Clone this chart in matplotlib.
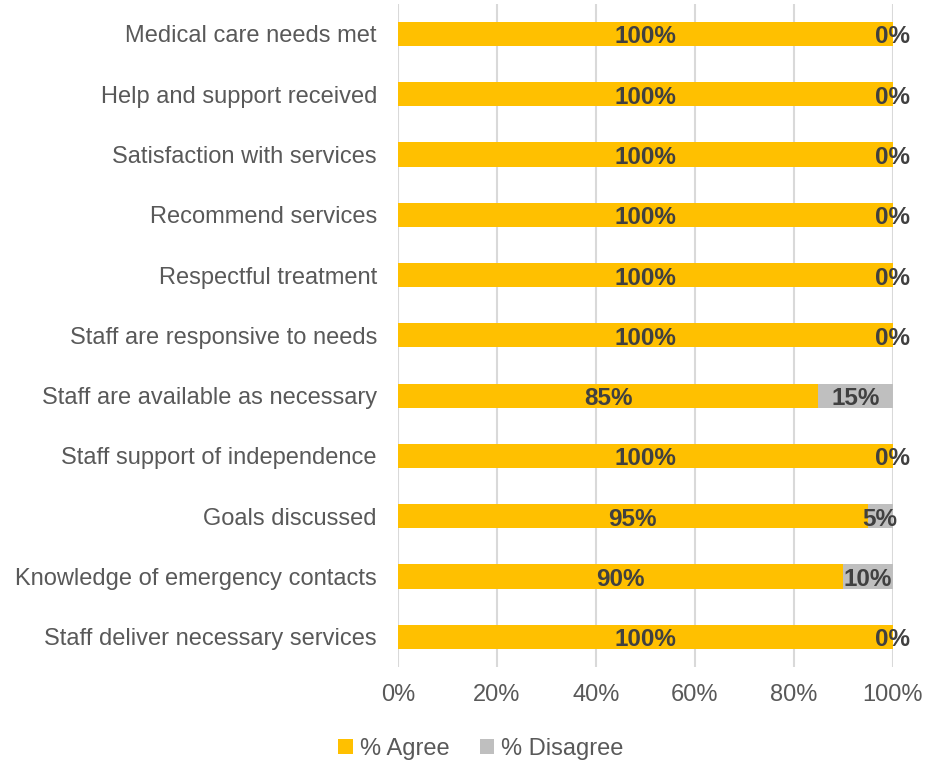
import matplotlib.pyplot as plt
from matplotlib.ticker import PercentFormatter

plt.rcParams['font.family'] = ['Liberation Sans', 'DejaVu Sans']

# survey items, bottom to top as drawn
items = ["Staff deliver necessary services",
         "Knowledge of emergency contacts",
         "Goals discussed",
         "Staff support of independence",
         "Staff are available as necessary",
         "Staff are responsive to needs",
         "Respectful treatment",
         "Recommend services",
         "Satisfaction with services",
         "Help and support received",
         "Medical care needs met"]
agree = [100, 90, 95, 100, 85, 100, 100, 100, 100, 100, 100]
disagree = [0, 10, 5, 0, 15, 0, 0, 0, 0, 0, 0]

fig = plt.figure(figsize=(9.25, 7.63), dpi=100)
ax = fig.add_axes([0.430, 0.126, 0.535, 0.869])

y = range(len(items))
b1 = ax.barh(y, agree, height=0.4, color='#FFC000', label='% Agree', zorder=3)
b2 = ax.barh(y, disagree, left=agree, height=0.4, color='#BFBFBF',
             label='% Disagree', zorder=3)

# value labels centred in each segment
for bars, vals in ((b1, agree), (b2, disagree)):
    for rect, v in zip(bars, vals):
        ax.text(rect.get_x() + rect.get_width() / 2,
                rect.get_y() + rect.get_height() / 2 - 0.05,
                f"{v}%", ha='center', va='center', fontsize=17.5,
                fontweight='bold', color='#404040', zorder=4)

ax.set_xlim(0, 100)
ax.set_ylim(-0.5, len(items) - 0.5)
ax.set_xticks(range(0, 101, 20))
ax.xaxis.set_major_formatter(PercentFormatter(decimals=0))
ax.set_yticks(list(y))
ax.set_yticklabels(items)
ax.tick_params(axis='both', length=0, labelsize=17, labelcolor='#595959')
ax.tick_params(axis='y', pad=15)
ax.tick_params(axis='x', pad=12)
ax.grid(axis='x', color='#D9D9D9', linewidth=1.5, zorder=0)
for s in ax.spines.values():
    s.set_visible(False)

fig.legend(loc='center', bbox_to_anchor=(0.52, 0.019), ncol=2, frameon=False,
           fontsize=17, handlelength=0.6, handleheight=0.6, handletextpad=0.3,
           columnspacing=1.3, labelcolor='#595959')

fig.savefig('out.png', dpi=100)
